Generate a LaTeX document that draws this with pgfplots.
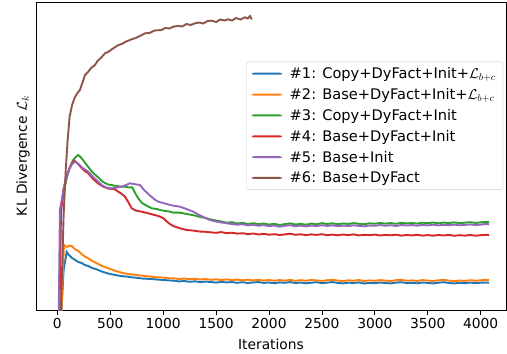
\documentclass[border=0pt]{standalone}
\usepackage{fontspec}
\setmainfont{DejaVu Sans}
\usepackage{pgfplots}
\pgfplotsset{compat=1.18}
\definecolor{mplblue}{HTML}{1F77B4}
\definecolor{mplorange}{HTML}{FF7F0E}
\definecolor{mplgreen}{HTML}{2CA02C}
\definecolor{mplred}{HTML}{D62728}
\definecolor{mplpurple}{HTML}{9467BD}
\definecolor{mplbrown}{HTML}{8C564B}
\newcommand\fs{\fontsize{13.8bp}{16.5bp}\selectfont}
\newcommand\lfs{\fontsize{14.6bp}{17.5bp}\selectfont}
\begin{document}
\begin{tikzpicture}
\useasboundingbox (-36bp,-44bp) rectangle (471bp,310bp);
\begin{axis}[
  width=470bp, height=308bp, scale only axis,
  xmin=-201, xmax=4239, ymin=0, ymax=308,
  xtick={0,500,...,4000}, ytick=\empty,
  xtick pos=lower, tick align=outside,
  major tick length=4.5bp,
  every tick/.style={black, line width=0.8bp},
  axis line style={black, line width=0.8bp},
  /pgf/number format/1000 sep={},
  /pgf/number format/assume math mode=true,
  ticklabel style={font=\fs},
  xlabel={Iterations},
  xlabel style={font=\fs, yshift=-4bp},
  ylabel={KL Divergence $\mathcal{L}_k$},
  ylabel style={font=\fs, at={(axis description cs:-0.013,0.5)}, anchor=south, inner sep=0pt},
  legend cell align=left,
  legend style={font=\lfs, at={(rel axis cs:0.9936,0.806)}, anchor=north east,
    draw=black!20, rounded corners=2bp, fill=white, inner xsep=5bp, inner ysep=3.5bp,
    row sep=4.3bp},
  legend image code/.code={\fill[#1, draw=none] (0bp,-1bp) rectangle (30bp,1bp); \path (35bp,0bp);},
  every axis plot/.append style={line width=1.9bp},
]
\addplot[mplblue] coordinates {(20,-40) (60,40) (89,58) (110,55) (140,52) (170,50) (198,48) (230,47) (260,45) (293,44) (330,42) (360,41) (387,40) (420,38.5) (450,37.5) (480,36.5) (514,35.7) (550,35) (600,34) (650,33.5) (703,32.7) (750,32.2) (800,31.5) (850,31.2) (923,30.7) (1000,30) (1050,29.6)
(1100,29.3) (1150,28.6) (1200,29.0) (1250,28.2) (1300,28.7) (1350,27.9) (1400,28.4) (1450,28.0) (1500,27.4) (1550,28.1) (1600,27.6) (1650,27.9) (1700,27.2) (1750,27.8) (1800,27.0) (1850,27.6) (1900,27.9) (1950,27.1) (2000,27.5) (2050,26.8) (2100,27.6) (2150,27.2) (2200,27.9) (2250,27.0) (2300,27.4) (2350,26.7) (2400,27.3) (2450,27.8) (2500,26.9) (2550,27.4) (2600,27.9) (2650,27.1) (2700,26.6) (2750,27.3) (2800,27.0) (2850,27.6) (2900,26.5) (2950,27.1) (3000,26.8) (3050,27.5) (3100,27.0) (3150,26.6) (3200,27.4) (3250,27.8) (3300,26.9) (3350,27.2) (3400,26.7) (3450,27.5) (3500,27.1) (3550,26.6) (3600,27.3) (3650,27.8) (3700,27.0) (3750,26.6) (3800,27.2) (3850,26.8) (3900,27.4) (3950,26.9) (4000,27.3) (4050,27.5) (4080,27.2)};
\addlegendentry{\#1: Copy+DyFact+Init+$\mathcal{L}_{b+c}$}
\addplot[mplorange] coordinates {(25,-40) (63,65) (90,63) (120,64.5) (136,64) (165,61) (198,59) (230,56) (260,53.5) (293,51.7) (330,49) (360,47.5) (387,46) (420,44) (450,43) (482,41.7) (520,40.2) (560,38.8) (608,37.3) (650,36.3) (700,35.6) (750,35) (829,34) (900,33.2) (960,32.6) (1000,32.5) (1050,31.8)
(1100,31.7) (1150,31.0) (1200,31.5) (1250,30.8) (1300,31.2) (1350,30.5) (1400,31.0) (1450,30.2) (1500,30.7) (1550,30.0) (1600,30.6) (1650,29.9) (1700,30.4) (1750,29.7) (1800,30.3) (1850,29.6) (1900,30.2) (1950,29.5) (2000,30.0) (2050,29.3) (2100,29.9) (2150,29.4) (2200,30.1) (2250,29.2) (2300,29.8) (2350,29.3) (2400,30.0) (2450,29.6) (2500,29.1) (2550,29.8) (2600,30.2) (2650,29.4) (2700,29.0) (2750,29.7) (2800,29.3) (2850,30.0) (2900,29.0) (2950,29.6) (3000,29.2) (3050,29.9) (3100,29.4) (3150,29.0) (3200,29.8) (3250,30.2) (3300,29.3) (3350,29.6) (3400,29.1) (3450,29.9) (3500,29.5) (3550,29.0) (3600,29.7) (3650,30.1) (3700,29.4) (3750,28.9) (3800,29.5) (3850,29.1) (3900,29.8) (3950,29.3) (4000,29.7) (4050,30.2) (4080,30.0)};
\addlegendentry{\#2: Base+DyFact+Init+$\mathcal{L}_{b+c}$}
\addplot[mplgreen] coordinates {(10,-40) (32,100) (60,118) (90,132) (120,143) (150,150) (175,153) (198,155) (220,153) (250,149) (293,143) (330,138) (360,135) (387,132.7) (420,129) (450,127) (480,125.5) (514,125) (550,124) (600,123.5) (640,123.3) (680,122.5) (709,122.7) (735,117) (765,111.7) (800,107) (850,104) (892,101.7) (940,101) (971,100) (1020,99) (1060,98.5) (1096,97.3) (1159,97.3) (1200,96.5) (1250,95.5) (1300,94.5) (1350,93) (1400,92) (1443,90.7) (1500,89.5) (1550,88.5) (1600,87.3) (1650,87.8) (1700,86.5) (1750,87.2) (1800,86.0) (1850,86.8) (1900,85.8) (1950,86.5) (2000,85.4) (2050,86.2) (2100,85.0) (2150,85.9) (2200,86.6) (2250,85.5) (2300,86.1) (2350,85.3) (2400,86.4) (2450,85.7) (2500,86.9) (2550,86.0) (2600,86.7) (2650,85.8) (2700,86.5) (2750,86.1) (2800,86.9) (2850,86.2) (2900,85.9) (2950,86.7) (3000,86.3) (3050,87.0) (3100,86.4) (3150,86.9) (3200,86.2) (3250,87.2) (3300,86.6) (3350,87.0) (3400,86.4) (3450,87.3) (3500,86.8) (3550,87.5) (3600,86.7) (3650,87.4) (3700,87.0) (3750,87.6) (3800,86.9) (3850,87.3) (3900,87.8) (3950,87.1) (4000,87.6) (4050,88.2) (4080,87.8)};
\addlegendentry{\#3: Copy+DyFact+Init}
\addplot[mplred] coordinates {(15,-40) (35,97) (57,120) (90,135) (120,143) (145,148) (161,149.3) (190,147) (230,142) (260,139) (293,136.7) (330,132) (370,128) (400,125.5) (435,123.3) (480,121.5) (545,120.7) (580,118) (610,116) (640,113.3) (670,108) (703,101.7) (740,99.5) (797,98.3) (850,97) (900,95.5) (954,94) (1000,92) (1040,88) (1070,85.5) (1096,84) (1150,82) (1222,80) (1280,79.5) (1340,78.5) (1400,78.2) (1443,77.7) (1500,77.2) (1550,77.9) (1600,76.8) (1650,77.3) (1700,76.4) (1758,76.7) (1800,75.8) (1850,76.5) (1900,75.5) (1950,76.2) (2000,75.3) (2050,75.8) (2100,75.0) (2150,75.6) (2200,76.3) (2250,75.2) (2300,75.7) (2350,74.9) (2400,75.6) (2450,75.1) (2500,75.8) (2550,74.8) (2600,75.4) (2650,74.7) (2700,75.5) (2750,74.9) (2800,75.6) (2850,74.6) (2900,75.2) (2950,74.8) (3000,75.4) (3050,74.5) (3100,75.1) (3150,74.7) (3200,75.3) (3250,74.4) (3300,75.0) (3350,74.6) (3400,75.2) (3450,74.4) (3500,74.9) (3550,74.3) (3600,75.0) (3650,74.5) (3700,75.1) (3750,74.2) (3800,74.8) (3850,74.4) (3900,75.0) (3950,74.3) (4000,74.8) (4050,75.2) (4080,74.9)};
\addlegendentry{\#4: Base+DyFact+Init}
\addplot[mplpurple] coordinates {(10,-40) (25,100) (50,115) (80,130) (110,140) (140,146) (167,148.3) (200,146) (240,142) (293,138.3) (330,134) (360,131) (387,128.3) (420,125) (460,122.5) (514,121.7) (560,122.5) (608,123.3) (650,125) (687,126.7) (720,126) (781,125) (820,120) (870,115) (920,110.5) (954,108.3) (1000,107) (1050,105.5) (1096,104.3) (1159,103.3) (1220,101) (1285,98.3) (1340,95) (1400,92) (1443,90) (1500,88.5) (1550,87.5) (1600,86.7) (1650,86) (1700,85.3) (1750,85.8) (1800,84.6) (1850,85.2) (1900,84.3) (1950,84.9) (2000,83.9) (2050,84.5) (2100,83.3) (2150,84.2) (2200,84.8) (2250,83.8) (2300,84.4) (2350,83.6) (2400,84.5) (2450,83.9) (2500,84.8) (2550,84.1) (2600,84.7) (2650,83.8) (2700,84.4) (2750,84.0) (2800,84.7) (2850,84.1) (2900,83.7) (2950,84.5) (3000,84.2) (3050,84.9) (3100,84.3) (3150,84.8) (3200,84.0) (3250,85.0) (3300,84.5) (3350,84.9) (3400,84.3) (3450,85.1) (3500,84.6) (3550,85.3) (3600,84.6) (3650,85.2) (3700,84.8) (3750,85.4) (3800,84.7) (3850,85.1) (3900,85.6) (3950,84.9) (4000,85.4) (4050,86.0) (4080,85.6)};
\addlegendentry{\#5: Base+Init}
\addplot[mplbrown] coordinates {(20,-40) (35,0) (60,95) (80,140) (98,170) (116,193) (140,205) (167,213) (190,217) (214,220) (240,228) (262,235) (290,238) (320,242) (356,245) (380,249) (420,253) (451,256.7) (480,258) (520,261) (577,265) (610,266) (650,268.5) (703,270.7) (740,272) (790,274.5) (829,276.7) (870,277) (920,279.5) (986,280) (1020,282) (1060,281.5) (1100,283.5) (1143,284) (1180,283.5) (1220,286) (1260,285) (1301,286.7) (1340,287.5) (1380,286.5) (1420,289) (1459,289.3) (1500,288) (1540,290.5) (1580,289.5) (1616,290.7) (1650,289.5) (1690,292) (1730,290.5) (1773,292.7) (1800,291.5) (1820,294) (1837,290.5)};
\addlegendentry{\#6: Base+DyFact}
\end{axis}
\end{tikzpicture}
\end{document}
